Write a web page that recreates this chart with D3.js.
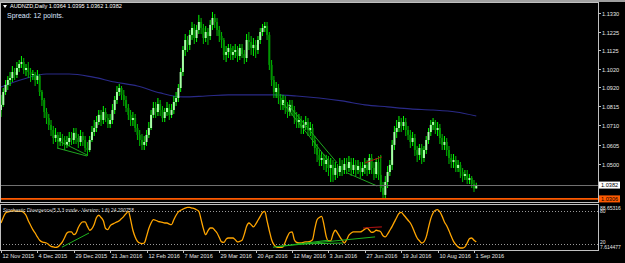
<!DOCTYPE html>
<html>
<head>
<meta charset="utf-8">
<script src="https://cdn.jsdelivr.net/npm/d3@7"></script>
<style>
  body { margin: 0; background: #000; }
  svg { display: block; font-family: "Liberation Sans", Arial, sans-serif; }
</style>
</head>
<body>
<div id="chart"></div>
<script>
// daily bars AUDNZD, 12 Nov 2015 .. 2 Sep 2016 (open = previous close)
const firstOpen = 1.0795;
const closes = [
  1.0823,1.0894,1.0933,1.0960,1.0971,1.1004,1.0988,1.1026,1.1048,1.1059,
  1.1015,1.1026,1.1004,1.0988,1.0993,1.0960,1.0982,1.0894,1.0850,1.0784,
  1.0751,1.0713,1.0685,1.0641,1.0658,1.0619,1.0641,1.0630,1.0603,1.0619,
  1.0641,1.0630,1.0669,1.0641,1.0619,1.0652,1.0630,1.0586,1.0575,1.0630,
  1.0674,1.0696,1.0729,1.0768,1.0740,1.0784,1.0751,1.0718,1.0740,1.0795,
  1.0850,1.0894,1.0916,1.0878,1.0850,1.0806,1.0768,1.0740,1.0751,1.0696,
  1.0658,1.0630,1.0603,1.0619,1.0658,1.0696,1.0768,1.0806,1.0784,1.0828,
  1.0795,1.0751,1.0784,1.0806,1.0768,1.0795,1.0839,1.0861,1.0916,1.1004,
  1.1125,1.1180,1.1153,1.1208,1.1246,1.1191,1.1235,1.1279,1.1246,1.1191,
  1.1224,1.1202,1.1263,1.1301,1.1279,1.1235,1.1202,1.1180,1.1098,1.1114,
  1.1136,1.1098,1.1114,1.1125,1.1092,1.1136,1.1103,1.1081,1.1180,1.1169,
  1.1136,1.1153,1.1125,1.1180,1.1224,1.1246,1.1257,1.1208,1.1043,1.0960,
  1.0894,1.0916,1.0861,1.0823,1.0850,1.0806,1.0784,1.0823,1.0795,1.0751,
  1.0729,1.0740,1.0696,1.0713,1.0729,1.0685,1.0696,1.0630,1.0586,1.0548,
  1.0520,1.0531,1.0498,1.0520,1.0476,1.0493,1.0438,1.0476,1.0454,1.0487,
  1.0465,1.0498,1.0476,1.0509,1.0465,1.0493,1.0465,1.0487,1.0454,1.0476,
  1.0493,1.0465,1.0531,1.0476,1.0443,1.0509,1.0438,1.0366,1.0328,1.0399,
  1.0454,1.0493,1.0603,1.0674,1.0696,1.0729,1.0707,1.0729,1.0685,1.0658,
  1.0619,1.0641,1.0575,1.0548,1.0586,1.0531,1.0575,1.0630,1.0674,1.0713,
  1.0729,1.0685,1.0696,1.0641,1.0603,1.0619,1.0575,1.0531,1.0509,1.0520,
  1.0476,1.0493,1.0454,1.0432,1.0443,1.0410,1.0421,1.0388,1.0364,1.0382
];
const highs = [
  1.0878,1.0916,1.0960,1.0982,1.1004,1.1037,1.1026,1.1059,1.1070,1.1092,
  1.1081,1.1048,1.1059,1.1026,1.1015,1.1004,1.1015,1.0993,1.0905,1.0861,
  1.0806,1.0773,1.0740,1.0707,1.0696,1.0674,1.0674,1.0663,1.0652,1.0652,
  1.0674,1.0674,1.0696,1.0696,1.0663,1.0685,1.0674,1.0652,1.0619,1.0652,
  1.0707,1.0740,1.0762,1.0795,1.0795,1.0817,1.0806,1.0773,1.0773,1.0828,
  1.0872,1.0927,1.0938,1.0927,1.0905,1.0872,1.0828,1.0795,1.0784,1.0773,
  1.0718,1.0685,1.0663,1.0652,1.0685,1.0729,1.0795,1.0839,1.0839,1.0861,
  1.0850,1.0817,1.0806,1.0839,1.0828,1.0828,1.0872,1.0894,1.0938,1.1026,
  1.1147,1.1213,1.1202,1.1235,1.1279,1.1268,1.1263,1.1318,1.1301,1.1268,
  1.1257,1.1246,1.1290,1.1334,1.1323,1.1301,1.1257,1.1224,1.1191,1.1147,
  1.1158,1.1158,1.1147,1.1158,1.1147,1.1158,1.1158,1.1125,1.1213,1.1224,
  1.1202,1.1191,1.1180,1.1202,1.1246,1.1268,1.1279,1.1279,1.1224,1.1070,
  1.0982,1.0949,1.0938,1.0883,1.0878,1.0872,1.0839,1.0850,1.0850,1.0817,
  1.0784,1.0773,1.0762,1.0740,1.0762,1.0751,1.0729,1.0718,1.0652,1.0608,
  1.0575,1.0564,1.0553,1.0548,1.0542,1.0531,1.0520,1.0509,1.0498,1.0531,
  1.0520,1.0531,1.0531,1.0542,1.0531,1.0531,1.0520,1.0520,1.0509,1.0509,
  1.0531,1.0520,1.0553,1.0553,1.0509,1.0531,1.0542,1.0548,1.0399,1.0432,
  1.0487,1.0520,1.0630,1.0707,1.0740,1.0762,1.0751,1.0762,1.0751,1.0707,
  1.0685,1.0674,1.0663,1.0597,1.0608,1.0608,1.0597,1.0652,1.0696,1.0740,
  1.0751,1.0740,1.0729,1.0718,1.0663,1.0652,1.0641,1.0597,1.0553,1.0553,
  1.0542,1.0520,1.0509,1.0476,1.0465,1.0465,1.0443,1.0432,1.0410,1.0395
];
const lows = [
  1.0757,1.0812,1.0878,1.0905,1.0927,1.0949,1.0960,1.0971,1.1004,1.1026,
  1.0993,1.0982,1.0971,1.0949,1.0960,1.0927,1.0938,1.0872,1.0817,1.0751,
  1.0718,1.0685,1.0652,1.0608,1.0619,1.0586,1.0597,1.0597,1.0575,1.0586,
  1.0597,1.0603,1.0608,1.0608,1.0586,1.0597,1.0597,1.0564,1.0542,1.0564,
  1.0619,1.0652,1.0674,1.0713,1.0707,1.0718,1.0729,1.0696,1.0696,1.0718,
  1.0773,1.0828,1.0872,1.0850,1.0817,1.0784,1.0740,1.0707,1.0707,1.0674,
  1.0630,1.0597,1.0575,1.0575,1.0597,1.0641,1.0685,1.0751,1.0751,1.0762,
  1.0762,1.0729,1.0729,1.0762,1.0740,1.0751,1.0773,1.0817,1.0839,1.0894,
  1.0982,1.1092,1.1114,1.1125,1.1180,1.1158,1.1169,1.1213,1.1213,1.1158,
  1.1169,1.1153,1.1180,1.1235,1.1246,1.1202,1.1169,1.1136,1.1070,1.1059,
  1.1081,1.1070,1.1070,1.1081,1.1059,1.1070,1.1081,1.1048,1.1059,1.1125,
  1.1098,1.1092,1.1081,1.1103,1.1158,1.1202,1.1224,1.1180,1.1015,1.0927,
  1.0861,1.0861,1.0828,1.0795,1.0795,1.0773,1.0751,1.0762,1.0762,1.0718,
  1.0696,1.0696,1.0663,1.0663,1.0685,1.0652,1.0652,1.0597,1.0553,1.0509,
  1.0487,1.0487,1.0465,1.0454,1.0432,1.0399,1.0399,1.0410,1.0421,1.0432,
  1.0432,1.0443,1.0443,1.0454,1.0432,1.0443,1.0432,1.0443,1.0421,1.0432,
  1.0443,1.0432,1.0443,1.0443,1.0410,1.0421,1.0410,1.0344,1.0311,1.0311,
  1.0366,1.0432,1.0465,1.0575,1.0641,1.0674,1.0674,1.0685,1.0652,1.0630,
  1.0586,1.0597,1.0542,1.0509,1.0520,1.0498,1.0509,1.0553,1.0608,1.0652,
  1.0685,1.0663,1.0652,1.0608,1.0575,1.0575,1.0542,1.0498,1.0476,1.0476,
  1.0454,1.0454,1.0421,1.0399,1.0410,1.0388,1.0388,1.0366,1.0344,1.0362
];

// moving average read at every 10th bar
const maIndex  = [0,10,20,30,40,50,60,70,80,90,100,110,120,130,140,150,160,170,180,190,200,209];
const maValues = [1.0922,1.0966,1.0993,1.0993,1.0977,1.0949,1.0927,1.0889,1.0867,1.0872,1.0878,
                  1.0878,1.0878,1.0872,1.0861,1.0845,1.0823,1.0812,1.0801,1.0795,1.0784,1.0762];

// stochastic divergence main line, one value per bar
const stochValues = [
  58,68,76,78,79,80,80,79,79,79, 77,72,62,54,46,40,33,27,24,23,
  22,19,16,15,14,15,19,24,32,40, 42,42,37,40,50,57,60,60,52,45,
  48,56,68,72,68,62,48,46,53,56, 58,60,62,66,70,75,79,64,45,33,
  25,22,21,22,34,48,58,64,63,61, 60,59,58,58,56,55,64,72,78,81,
  83,85,86,86,85,84,82,79,64,48, 37,44,49,49,45,40,32,24,23,29,
  31,31,31,28,24,25,27,38,52,58, 55,51,56,63,70,77,79,62,44,28,
  19,15,14,14,15,24,34,41,42,28, 23,22,22,23,24,24,25,28,48,64,
  68,70,55,34,26,26,38,45,40,33, 27,22,28,36,40,42,42,42,42,44,
  47,49,45,41,42,45,44,42,35,33, 38,45,52,60,68,75,77,73,68,63,
  58,50,40,31,26,22,24,33,50,66, 76,81,82,78,70,60,53,44,34,25,
  19,15,13,13,15,22,30,31,27,24
];

// divergence trend lines: [bar index, value] pairs
const priceGreenLines = [
  [[24.6, 1.0586], [37.8, 1.0542]],
  [[24.6, 1.0630], [37.8, 1.0548]],
  [[124, 1.0834], [143.8, 1.0520]],
  [[126, 1.0828], [147.8, 1.0504]],
  [[152.2, 1.0449], [165.4, 1.0377]]
];
const priceRedLines = [[[160, 1.0504], [167.5, 1.0537]]];
const stochGreenLines = [
  [[26.8, 14.5], [38.7, 40]],
  [[119.6, 14.5], [143.8, 27]],
  [[130, 20], [150.4, 22]],
  [[122.7, 16], [164.5, 33]]
];
const stochRedLines = [[[159.2, 49], [167.5, 51]]];

const priceTicks = [1.1330, 1.1225, 1.1125, 1.1020, 1.0920, 1.0815, 1.0710, 1.0605, 1.0500, 1.0395];
const dateTickIndex = [0,16,32,48,64,80,96,112,128,144,160,176,192,208];
const dateTickLabels = ["12 Nov 2015","4 Dec 2015","29 Dec 2015","21 Jan 2016","12 Feb 2016","7 Mar 2016",
  "29 Mar 2016","20 Apr 2016","12 May 2016","3 Jun 2016","27 Jun 2016","19 Jul 2016","10 Aug 2016","1 Sep 2016"];

const bidPrice = 1.0382;
const hLinePrice = 1.0306;
const stochLevels = [80, 20];
const stochMax = 88.65316, stochMin = 7.614477;

const width = 625, height = 263;
const plotRight = 598;
const mainTop = 2, mainBottom = 202;
const indTop = 204, indBottom = 250;

const svg = d3.select("#chart").append("svg")
  .attr("width", width).attr("height", height)
  .style("background", "#000");

const x = d3.scaleLinear().domain([0, 208]).range([1, 474]);
const y = d3.scaleLinear().domain([1.0289, 1.1389]).range([mainBottom, mainTop]);
const ys = d3.scaleLinear().domain([stochMin, stochMax]).range([251, 206]);

const defs = svg.append("defs");
defs.append("clipPath").attr("id", "clipMain").append("rect")
  .attr("x", 0).attr("y", mainTop).attr("width", plotRight).attr("height", mainBottom - mainTop);
defs.append("clipPath").attr("id", "clipInd").append("rect")
  .attr("x", 0).attr("y", indTop).attr("width", plotRight).attr("height", indBottom - indTop);

// top strip
svg.append("rect").attr("x", 0).attr("y", 0).attr("width", width).attr("height", 2).attr("fill", "#a0a0a0");

const main = svg.append("g").attr("clip-path", "url(#clipMain)");

// moving average
main.append("path")
  .datum(maIndex.map((d, k) => [d, maValues[k]]))
  .attr("fill", "none").attr("stroke", "#2a2a88").attr("stroke-width", 1.1)
  .attr("d", d3.line().x(d => x(d[0])).y(d => y(d[1])).curve(d3.curveMonotoneX));

// candles
const bars = closes.map((c, i) => ({ i, o: i ? closes[i - 1] : firstOpen, h: highs[i], l: lows[i], c }));
const candle = main.append("g").selectAll("g").data(bars).join("g");
candle.append("line")
  .attr("x1", d => x(d.i)).attr("x2", d => x(d.i))
  .attr("y1", d => y(d.h)).attr("y2", d => y(d.l))
  .attr("stroke", d => d.c >= d.o ? "#00ff00" : "#00c000").attr("stroke-width", 1);
candle.append("rect")
  .attr("x", d => x(d.i) - 1)
  .attr("width", 2)
  .attr("y", d => y(Math.max(d.o, d.c)))
  .attr("height", d => Math.max(1, Math.abs(y(d.o) - y(d.c))))
  .attr("fill", d => d.c >= d.o ? "#a8ffa8" : "#009600");

// divergence lines on price
const priceLine = d3.line().x(d => x(d[0])).y(d => y(d[1]));
main.selectAll(".pg").data(priceGreenLines).join("path")
  .attr("d", priceLine).attr("fill", "none").attr("stroke", "#1fa51f").attr("stroke-width", 1);
main.selectAll(".pr").data(priceRedLines).join("path")
  .attr("d", priceLine).attr("fill", "none").attr("stroke", "#b41414").attr("stroke-width", 1);

// bid line and horizontal line
svg.append("line").attr("x1", 0).attr("x2", plotRight)
  .attr("y1", Math.round(y(bidPrice)) + 0.5).attr("y2", Math.round(y(bidPrice)) + 0.5)
  .attr("stroke", "#707070");
svg.append("line").attr("x1", 0).attr("x2", plotRight)
  .attr("y1", y(hLinePrice)).attr("y2", y(hLinePrice))
  .attr("stroke", "#ff5a00").attr("stroke-width", 1.6);

// indicator window
const ind = svg.append("g").attr("clip-path", "url(#clipInd)");
stochLevels.forEach(v => {
  ind.append("line").attr("x1", 0).attr("x2", plotRight)
    .attr("y1", Math.round(ys(v)) + 0.5).attr("y2", Math.round(ys(v)) + 0.5)
    .attr("stroke", "#9a9a9a").attr("stroke-dasharray", "1,2");
});
ind.append("path")
  .datum(stochValues)
  .attr("fill", "none").attr("stroke", "#ffa500").attr("stroke-width", 1.3)
  .attr("d", d3.line().x((d, i) => x(i)).y(d => ys(d)).curve(d3.curveMonotoneX));
const stochLine = d3.line().x(d => x(d[0])).y(d => ys(d[1]));
ind.selectAll(".sg").data(stochGreenLines).join("path")
  .attr("d", stochLine).attr("fill", "none").attr("stroke", "#1fb41f").attr("stroke-width", 1);
ind.selectAll(".sr").data(stochRedLines).join("path")
  .attr("d", stochLine).attr("fill", "none").attr("stroke", "#a01010").attr("stroke-width", 1.2);

// frames
svg.append("rect").attr("x", 0.5).attr("y", mainTop + 0.5).attr("width", plotRight).attr("height", mainBottom - mainTop)
  .attr("fill", "none").attr("stroke", "#c0c0c0");
svg.append("rect").attr("x", 0.5).attr("y", indTop + 0.5).attr("width", plotRight).attr("height", indBottom - indTop)
  .attr("fill", "none").attr("stroke", "#c0c0c0");

// price axis
const pAxis = svg.append("g");
priceTicks.forEach(p => {
  const yy = Math.round(y(p)) + 0.5;
  pAxis.append("line").attr("x1", plotRight).attr("x2", plotRight + 3).attr("y1", yy).attr("y2", yy).attr("stroke", "#c0c0c0");
  pAxis.append("text").attr("x", plotRight + 4).attr("y", yy + 2).attr("fill", "#e6e6e6")
    .attr("font-size", 5.6).text(p.toFixed(4));
});
// price labels
function priceBox(p, fill, txt) {
  const yy = y(p);
  svg.append("rect").attr("x", plotRight + 1).attr("y", yy - 3.5).attr("width", 21).attr("height", 7).attr("fill", fill);
  svg.append("text").attr("x", plotRight + 3).attr("y", yy + 2.2).attr("fill", txt).attr("font-size", 5.6).text(p.toFixed(4));
}
priceBox(bidPrice, "#ffffff", "#000");
priceBox(hLinePrice, "#ff5a00", "#000");

// indicator axis labels
svg.append("text").attr("x", plotRight + 2).attr("y", ys(stochMax) + 4).attr("fill", "#e6e6e6").attr("font-size", 5).text("88.65316");
svg.append("text").attr("x", plotRight + 2).attr("y", ys(80) + 2).attr("fill", "#e6e6e6").attr("font-size", 5).text("80");
svg.append("text").attr("x", plotRight + 2).attr("y", ys(20) - 0.5).attr("fill", "#e6e6e6").attr("font-size", 5).text("20");
svg.append("text").attr("x", plotRight + 2).attr("y", ys(stochMin) - 2).attr("fill", "#e6e6e6").attr("font-size", 5).text("7.614477");

// time axis
const tAxis = svg.append("g");
dateTickIndex.forEach((idx, k) => {
  const xx = Math.round(x(idx)) + 0.5;
  tAxis.append("line").attr("x1", xx).attr("x2", xx).attr("y1", indBottom).attr("y2", indBottom + 3).attr("stroke", "#c0c0c0");
  tAxis.append("text").attr("x", xx + 1).attr("y", 258).attr("fill", "#e6e6e6").attr("font-size", 5.6).text(dateTickLabels[k]);
});

// header texts
svg.append("path").attr("d", "M3,5 L7,5 L5,8 Z").attr("fill", "#fff");
svg.append("text").attr("x", 10).attr("y", 8).attr("fill", "#fff").attr("font-size", 5.6)
  .text("AUDNZD,Daily  1.0364 1.0395 1.0362 1.0382");
svg.append("text").attr("x", 7).attr("y", 18).attr("fill", "#dde6ff").attr("font-size", 7)
  .text("Spread: 12 points.");
svg.append("text").attr("x", 3).attr("y", 212).attr("fill", "#d8d8d8").attr("font-size", 4.9)
  .text("Stochastic Divergence(5,3,3 mode - Version: 1.6) 24.290758");
</script>
</body>
</html>
